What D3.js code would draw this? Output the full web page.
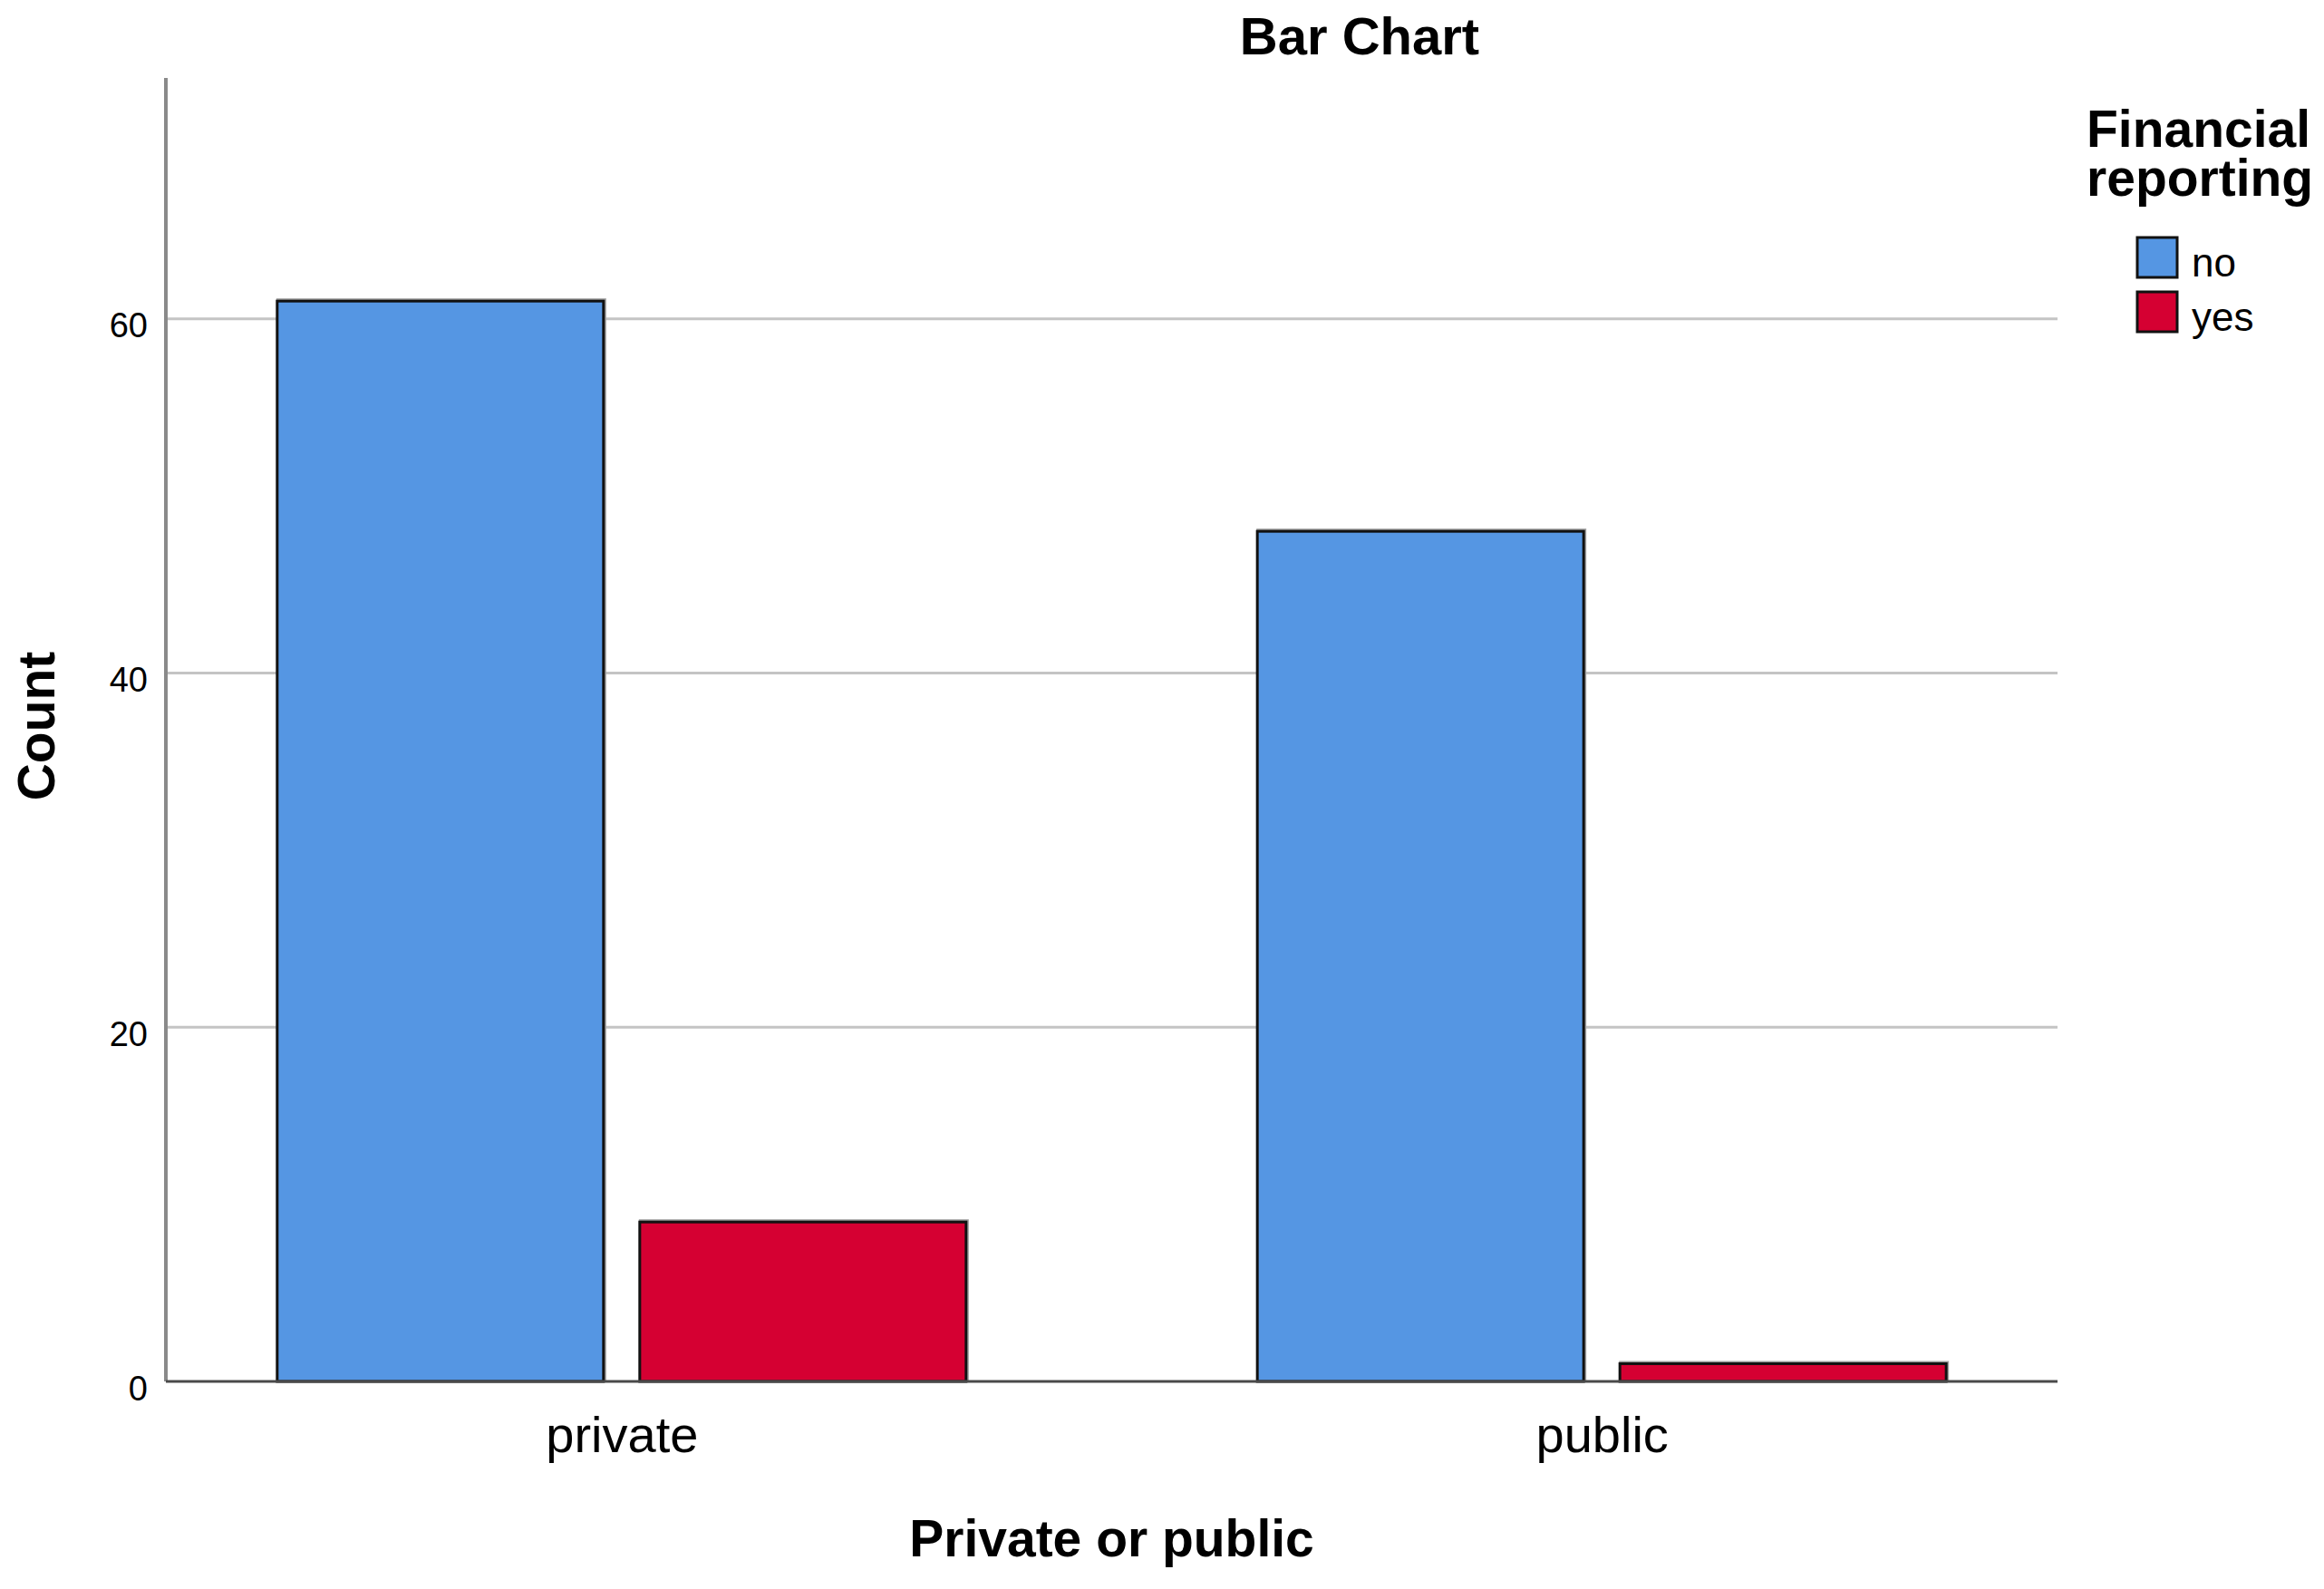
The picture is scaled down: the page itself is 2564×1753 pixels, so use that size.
<!DOCTYPE html>
<html>
<head>
<meta charset="utf-8">
<script src="https://cdn.jsdelivr.net/npm/d3@7"></script>
<style>
  html, body { margin: 0; padding: 0; background: #fff; }
  svg { display: block; }
  text { font-family: "Liberation Sans", Arial, sans-serif; fill: #000; }
</style>
</head>
<body>
<svg></svg>
<script>
// data
var categories = ["private", "public"]
var groups = ["no", "yes"]
var noCounts = [61, 48]
var yesCounts = [9, 1]
var yTicks = [0, 20, 40, 60]
var groupColors = ["#5596e3", "#d50032"]

var width = 2564,
    height = 1753

var svg = d3.select("svg")
    .attr("width", width)
    .attr("height", height)

// plot frame (window.top is reserved, so use other names)
var plotLeft = 183, plotRight = 2270, plotTop = 86, plotBottom = 1524

var rows = categories.map(function(c, i) {
  return { category: c, values: [
    { key: "no", value: noCounts[i] },
    { key: "yes", value: yesCounts[i] }
  ] }
})

var x0 = d3.scalePoint()
    .domain(categories)
    .range([plotLeft, plotRight])
    .padding(0.465)

var x1 = d3.scaleBand()
    .domain(groups)
    .range([-380, 380])
    .paddingInner(0.1)

var y = d3.scaleLinear()
    .domain([0, 73.6])
    .range([plotBottom, plotTop])

var color = d3.scaleOrdinal()
    .domain(groups)
    .range(groupColors)

// gridlines
svg.append("g")
  .selectAll("line")
  .data(yTicks.filter(function(d) { return d > 0 }))
  .join("line")
    .attr("x1", plotLeft)
    .attr("x2", plotRight)
    .attr("y1", function(d) { return y(d) })
    .attr("y2", function(d) { return y(d) })
    .attr("stroke", "#c4c4c4")
    .attr("stroke-width", 3)

// y axis labels
var yAxis = d3.axisLeft(y)
    .tickValues(yTicks)
    .tickSize(0)
    .tickPadding(20)

var gY = svg.append("g")
    .attr("transform", "translate(" + plotLeft + ",0)")
    .call(yAxis)
gY.select(".domain").remove()
gY.selectAll("text")
    .attr("dy", 20)
    .style("font-size", "38px")
    .style("font-family", "'Liberation Sans', Arial, sans-serif")

// bars
var bars = svg.append("g")
  .selectAll("g")
  .data(rows)
  .join("g")
    .attr("transform", function(d) { return "translate(" + x0(d.category) + ",0)" })

// soft grey edge on top/right like the SPSS render
bars.selectAll("rect.shadow")
  .data(function(d) { return d.values })
  .join("rect")
    .attr("class", "shadow")
    .attr("x", function(d) { return x1(d.key) - 1 })
    .attr("y", function(d) { return y(d.value) - 3 })
    .attr("width", x1.bandwidth() + 4)
    .attr("height", function(d) { return plotBottom - y(d.value) + 3 })
    .attr("fill", "#a0a0a0")

bars.selectAll("rect.bar")
  .data(function(d) { return d.values })
  .join("rect")
    .attr("class", "bar")
    .attr("x", function(d) { return x1(d.key) })
    .attr("y", function(d) { return y(d.value) })
    .attr("width", x1.bandwidth())
    .attr("height", function(d) { return plotBottom - y(d.value) })
    .attr("fill", function(d) { return color(d.key) })
    .attr("stroke", "#111")
    .attr("stroke-width", 3)

// y axis line
svg.append("line")
    .attr("x1", plotLeft).attr("x2", plotLeft)
    .attr("y1", plotTop).attr("y2", plotBottom)
    .attr("stroke", "#8a8a8a")
    .attr("stroke-width", 4)

// x axis
var xAxis = d3.axisBottom(x0)
    .tickSize(0)
    .tickPadding(38)

var gX = svg.append("g")
    .attr("transform", "translate(0," + plotBottom + ")")
    .call(xAxis)
gX.select(".domain")
    .attr("d", "M" + plotLeft + ",0H" + plotRight)
    .attr("stroke", "#4a4a4a")
    .attr("stroke-width", 3)
gX.selectAll("text")
    .style("font-size", "56px")
    .style("font-family", "'Liberation Sans', Arial, sans-serif")

// titles
svg.append("text")
    .attr("x", 1500)
    .attr("y", 60)
    .attr("text-anchor", "middle")
    .style("font-size", "58px")
    .style("font-weight", "bold")
    .text("Bar Chart")

svg.append("text")
    .attr("x", (plotLeft + plotRight) / 2)
    .attr("y", 1717)
    .attr("text-anchor", "middle")
    .style("font-size", "57px")
    .style("font-weight", "bold")
    .text("Private or public")

svg.append("text")
    .attr("transform", "translate(60," + 801 + ") rotate(-90)")
    .attr("text-anchor", "middle")
    .style("font-size", "57px")
    .style("font-weight", "bold")
    .text("Count")

// legend
var legend = svg.append("g")
    .attr("transform", "translate(2302,0)")

legend.append("text")
    .attr("y", 162)
    .style("font-size", "57px")
    .style("font-weight", "bold")
    .text("Financial")
legend.append("text")
    .attr("y", 216)
    .style("font-size", "57px")
    .style("font-weight", "bold")
    .text("reporting")

var items = legend.selectAll("g.item")
  .data(groups)
  .join("g")
    .attr("class", "item")
    .attr("transform", function(d, i) { return "translate(56," + (262 + i * 60) + ")" })

items.append("rect")
    .attr("width", 44)
    .attr("height", 44)
    .attr("fill", function(d) { return color(d) })
    .attr("stroke", "#111")
    .attr("stroke-width", 3)

items.append("text")
    .attr("x", 60)
    .attr("y", 43)
    .style("font-size", "44px")
    .text(function(d) { return d })
</script>
</body>
</html>
